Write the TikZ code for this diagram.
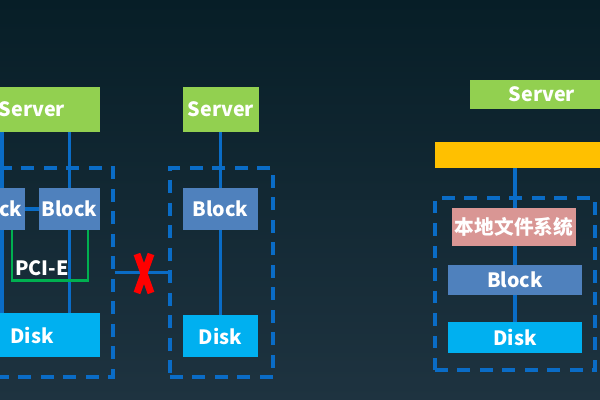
\documentclass[tikz,border=0pt]{standalone}
\usepackage{fontspec}
\setmainfont{Noto Sans CJK SC}
\usetikzlibrary{calc}
\definecolor{SANbgTop}{HTML}{071E27}
\definecolor{SANbgMid}{HTML}{1D4A5E}
\definecolor{SANbgBot}{HTML}{1E3340}
\definecolor{SANline}{HTML}{0A6CC6}
\definecolor{SANserver}{HTML}{92D050}
\definecolor{SANblock}{HTML}{4F81BD}
\definecolor{SANdisk}{HTML}{00B0F0}
\definecolor{SANfs}{HTML}{D99694}
\definecolor{SANbar}{HTML}{FFC000}
\definecolor{SANpci}{HTML}{00B050}
\tikzset{
  sanbox/.style={inner sep=0pt, text=white, font=\bfseries\fontsize{14}{14}\selectfont},
  server/.style={sanbox, fill=SANserver},
  block/.style={sanbox, fill=SANblock},
  disk/.style={sanbox, fill=SANdisk},
  localfs/.style={sanbox, fill=SANfs},
  hostbar/.style={sanbox, fill=SANbar},
  group/.style={draw=SANline, line width=2.2pt, dash pattern=on 9pt off 7pt, inner sep=0pt},
  link/.style={draw=SANline, line width=2.4pt},
}
\newcommand{\SANBox}[6]{
  \node[#5, minimum width=#3, minimum height=#4] (#1) at #2 {#6};
}
\newcommand{\SANGroup}[4]{
  \node[group, minimum width=#3, minimum height=#4] (#1) at #2 {};
}
\begin{document}
\begin{tikzpicture}[x=0.025cm,y=-0.025cm]
\shade[top color=SANbgTop, middle color=SANbgMid, bottom color=SANbgBot] (0,0) rectangle (600,400);
\useasboundingbox (0,0) rectangle (600,400);
\clip (0,0) rectangle (600,400);

% shared storage (cut at the left edge)
\SANGroup{grpL}{(32,272.5)}{4.05cm}{5.225cm}
\SANBox{srvL}{(32,109.5)}{3.4cm}{1.125cm}{server}{Server}
\SANBox{blkA}{(-5.5,209)}{1.525cm}{1.05cm}{block}{Block}
\SANBox{blkB}{(69.5,209)}{1.525cm}{1.05cm}{block}{Block}
\SANBox{dskL}{(32,335)}{3.4cm}{1.1cm}{disk}{Disk}
\coordinate (lnA) at (2,0);
\draw[link] (srvL.south -| lnA) -- (blkA.north -| lnA);
\draw[link] (blkA.south -| lnA) -- (dskL.north -| lnA);
\draw[link] (srvL.south -| blkB) -- (blkB.north);
\draw[link] (blkB.south) -- (dskL.north -| blkB);
\draw[link] (blkA.east) -- (blkB.west);
% PCI-E bracket
\draw[draw=SANpci, line width=2pt] ($(blkA.south -| lnA)+(10,0)$) -- ++(0,50) -| ($(blkB.south)+(18.5,0)$);
\node[sanbox] (pci) at (42,268) {PCI-E};

% single server
\SANGroup{grpM}{(221.5,272.5)}{2.575cm}{5.225cm}
\SANBox{srvM}{(221,109.5)}{1.9cm}{1.125cm}{server}{Server}
\SANBox{blkM}{(220.5,209)}{1.875cm}{1.05cm}{block}{Block}
\SANBox{dskM}{(220.5,336)}{1.875cm}{1.05cm}{disk}{Disk}
\draw[link] (srvM.south -| blkM) -- (blkM.north);
\draw[link] (blkM.south) -- (dskM.north);

% no link between them
\draw[link] (grpL.east) -- (grpM.west);
\draw[red, line width=5pt] (137,254) -- (151,293);
\draw[red, line width=5pt] (151,254) -- (137,293);

% local file system stack
\SANBox{srvR}{(542,94.5)}{3.6cm}{0.725cm}{server}{Server}
\SANBox{bar}{(542,155)}{5.35cm}{0.65cm}{hostbar}{}
\SANGroup{grpR}{(515,284)}{4cm}{4.3cm}
\SANBox{fs}{(514,227)}{3.1cm}{0.95cm}{localfs}{本地文件系统}
\SANBox{blkR}{(515,280)}{3.35cm}{0.75cm}{block}{Block}
\SANBox{dskR}{(515,337.5)}{3.35cm}{0.775cm}{disk}{Disk}
\draw[link] (bar.south -| blkR) -- (fs.north -| blkR);
\draw[link] (fs.south -| blkR) -- (blkR.north);
\draw[link] (blkR.south) -- (dskR.north);
\end{tikzpicture}
\end{document}
